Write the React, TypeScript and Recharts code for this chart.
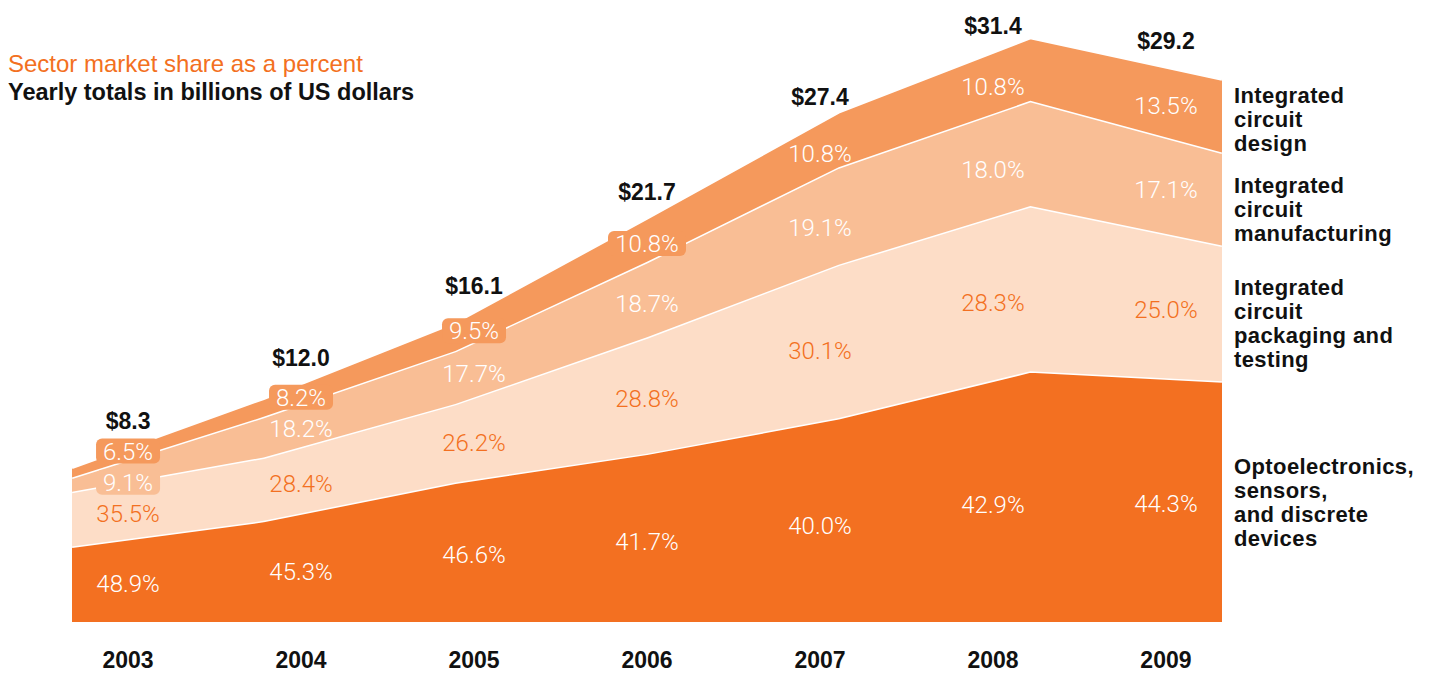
import React from 'react';
import { ComposedChart, Area, Scatter, XAxis, YAxis } from 'recharts';

// values
const YEARS = [2003, 2004, 2005, 2006, 2007, 2008, 2009];
const TOTALS = [8.3, 12.0, 16.1, 21.7, 27.4, 31.4, 29.2];
const OPTO = [48.9, 45.3, 46.6, 41.7, 40.0, 42.9, 44.3];
const PACKAGING = [35.5, 28.4, 26.2, 28.8, 30.1, 28.3, 25.0];
const MANUFACTURING = [9.1, 18.2, 17.7, 18.7, 19.1, 18.0, 17.1];
const DESIGN = [6.5, 8.2, 9.5, 10.8, 10.8, 10.8, 13.5];

const SERIES_KEYS = ['opto', 'packaging', 'manufacturing', 'design'];
const SERIES_SHARES = [OPTO, PACKAGING, MANUFACTURING, DESIGN];
const SERIES_NAMES = [
  ['Optoelectronics,', 'sensors,', 'and discrete', 'devices'],
  ['Integrated', 'circuit', 'packaging and', 'testing'],
  ['Integrated', 'circuit', 'manufacturing'],
  ['Integrated', 'circuit', 'design'],
];

// styles
const FILLS = ['#F37021', '#FDDDC7', '#F9BE95', '#F5995C'];
const LABEL_COLORS = ['#FFFFFF', '#F37021', '#FFFFFF', '#FFFFFF'];
const PILLS: Record<string, number[]> = { design: [2003, 2004, 2005, 2006], manufacturing: [2003] };
const PILL_DY: Record<string, number> = { 'design-2003': -6, 'manufacturing-2003': 8 };
const LEGEND_TOPS = [447, 268, 166, 76];
const SANS = "'Liberation Sans', Arial, sans-serif";
const LIGHT = "Roboto, 'Liberation Sans', sans-serif";

const W = 1425;
const H = 667;
const YEAR_PAD = 0.324;
const YEAR_DOMAIN = [YEARS[0] - YEAR_PAD, YEARS[YEARS.length - 1] + YEAR_PAD];

const rows = YEARS.map((y, i) => {
  const r: any = { i };
  SERIES_KEYS.forEach((k, s) => {
    r[k] = (TOTALS[i] * SERIES_SHARES[s][i]) / 100;
  });
  return r;
});

// cumulative edges of each band
const edges = SERIES_KEYS.map((_, s) =>
  YEARS.map((__, i) => {
    let lo = 0;
    for (let j = 0; j < s; j++) lo += rows[i][SERIES_KEYS[j]];
    return [lo, lo + rows[i][SERIES_KEYS[s]]];
  })
);

const toIndex = (year: number) =>
  ((year - YEAR_DOMAIN[0]) / (YEAR_DOMAIN[1] - YEAR_DOMAIN[0])) * (YEARS.length - 1);

const interp = (arr: number[], t: number) => {
  const a = Math.max(0, Math.min(arr.length - 1, Math.floor(t)));
  const b = Math.min(arr.length - 1, a + 1);
  const f = t - a;
  return arr[a] + (arr[b] - arr[a]) * f;
};

const pctPoints = SERIES_KEYS.flatMap((k, s) =>
  YEARS.map((year, i) => {
    const t = toIndex(year);
    const lo = interp(edges[s].map((e) => e[0]), t);
    const hi = interp(edges[s].map((e) => e[1]), t);
    return {
      year,
      v: (lo + hi) / 2,
      text: SERIES_SHARES[s][i].toFixed(1) + '%',
      color: LABEL_COLORS[s],
      pill: (PILLS[k] || []).includes(year) ? FILLS[s] : null,
      dy: PILL_DY[`${k}-${year}`] || 0,
    };
  })
);

const totalPoints = YEARS.map((year, i) => ({
  year,
  v: interp(TOTALS, toIndex(year)),
  text: '$' + TOTALS[i].toFixed(1),
}));

const PctLabel = (props: any) => {
  const { cx, payload } = props;
  const cy = props.cy + 4 + payload.dy;
  const w = payload.text.length * 14 + 8;
  return (
    <g>
      {payload.pill && (
        <rect x={cx - w / 2} y={cy - 13} width={w} height={25} rx={6} fill={payload.pill} />
      )}
      <text x={cx} y={cy + 8} textAnchor="middle" fill={payload.color} fontSize={24} fontWeight={300} fontFamily={LIGHT}>
        {payload.text}
      </text>
    </g>
  );
};

const TotalLabel = (props: any) => {
  const { cx, cy, payload } = props;
  return (
    <text x={cx} y={cy - 18} textAnchor="middle" fill="#111" fontSize={23} fontWeight={700} fontFamily={SANS}>
      {payload.text}
    </text>
  );
};

const YearTick = (props: any) => {
  const { x, payload } = props;
  return (
    <text x={x} y={H - 7} textAnchor="middle" fill="#111" fontSize={23} fontWeight={700} fontFamily={SANS}>
      {payload.value}
    </text>
  );
};

export default function App() {
  return (
    <div style={{ position: 'relative', width: W, height: H, fontFamily: SANS }}>
      <div style={{ position: 'absolute', left: 0, top: 44, lineHeight: '24px', fontSize: 24, color: '#F37021', whiteSpace: 'nowrap' }}>
        Sector market share as a percent
      </div>
      <div style={{ position: 'absolute', left: 0, top: 72, lineHeight: '24px', fontSize: 23.5, fontWeight: 700, color: '#111', whiteSpace: 'nowrap' }}>
        Yearly totals in billions of US dollars
      </div>
      <ComposedChart width={W} height={H} data={rows} margin={{ top: 0, right: 211, left: 64, bottom: 0 }}>
        <XAxis xAxisId="area" type="number" dataKey="i" domain={[0, YEARS.length - 1]} hide />
        <XAxis
          xAxisId="year"
          type="number"
          dataKey="year"
          domain={YEAR_DOMAIN}
          ticks={YEARS}
          interval={0}
          height={53}
          axisLine={false}
          tickLine={false}
          tick={<YearTick />}
        />
        <YAxis type="number" dataKey="v" domain={[0, 33]} hide allowDataOverflow />
        {SERIES_KEYS.map((k, s) => (
          <Area
            key={k}
            xAxisId="area"
            dataKey={k}
            stackId="1"
            type="linear"
            fill={FILLS[s]}
            fillOpacity={1}
            stroke="#FFFFFF"
            strokeWidth={3}
            strokeLinejoin="round"
            isAnimationActive={false}
          />
        ))}
        <Scatter xAxisId="year" data={pctPoints} shape={<PctLabel />} isAnimationActive={false} />
        <Scatter xAxisId="year" data={totalPoints} shape={<TotalLabel />} isAnimationActive={false} />
      </ComposedChart>
      {SERIES_NAMES.map((lines, s) => (
        <div
          key={s}
          style={{ position: 'absolute', left: 1226, top: LEGEND_TOPS[s], fontSize: 22, letterSpacing: 0.4, fontWeight: 700, color: '#111', whiteSpace: 'nowrap' }}
        >
          {lines.map((l) => (
            <div key={l} style={{ height: 24, lineHeight: '24px' }}>{l}</div>
          ))}
        </div>
      ))}
    </div>
  );
}
